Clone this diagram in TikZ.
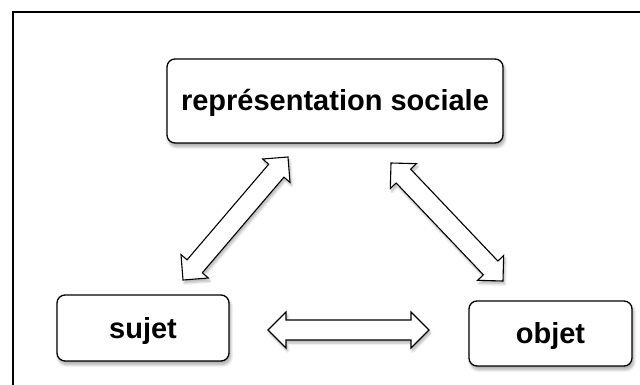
\documentclass[tikz,border=0pt]{standalone}
\usepackage{fontspec}
\setmainfont{Liberation Sans}
\usetikzlibrary{calc,shadows,shadows.blur}
\tikzset{
  frameline/.style={line width=1.3pt, line cap=rect},
  boxnode/.style={draw=black, line width=1.3pt, rounded corners=8pt, fill=white,
    inner sep=0pt, text height=23pt, text depth=3pt,
    font=\fontsize{29}{34}\selectfont\bfseries,
    blur shadow={shadow xshift=1.5pt, shadow yshift=-3.5pt, shadow opacity=35, shadow blur steps=8, shadow blur radius=3pt}},
  arrowbox/.style={draw=black, line width=1.1pt, fill=white, line join=miter,
    blur shadow={shadow xshift=1.5pt, shadow yshift=-3pt, shadow opacity=30, shadow blur steps=6, shadow blur radius=2.5pt}}
}
\newcommand\dblarrow[2]{%
  \coordinate (#1h) at ($(#1)!18pt!(#2)$);
  \coordinate (#2h) at ($(#2)!18pt!(#1)$);
  \draw[arrowbox] (#1)
    -- ($(#1h)!18pt!90:(#2)$) -- ($(#1h)!10pt!90:(#2)$)
    -- ($(#2h)!10pt!-90:(#1)$) -- ($(#2h)!18pt!-90:(#1)$)
    -- (#2)
    -- ($(#2h)!18pt!90:(#1)$) -- ($(#2h)!10pt!90:(#1)$)
    -- ($(#1h)!10pt!-90:(#2)$) -- ($(#1h)!18pt!-90:(#2)$)
    -- cycle;}
\begin{document}
\begin{tikzpicture}[x=1pt,y=-1pt]
\useasboundingbox (0,0) rectangle (640,385);
% frame
\coordinate (fbl) at (13,386);
\coordinate (ftl) at (13,12);
\coordinate (ftr) at (641,12);
\draw[frameline] (fbl) -- (ftl) -- (ftr);
% boxes
\node[boxnode, minimum width=336pt, minimum height=84pt] (rep) at (335,101) {représentation sociale};
\node[boxnode, minimum width=172pt, minimum height=66pt] (suj) at (143,328) {sujet};
\node[boxnode, minimum width=163pt, minimum height=65pt] (obj) at (550.5,333.5) {objet};
% arrow ends
\coordinate (la) at (183,280);
\coordinate (lb) at (288,157);
\coordinate (ra) at (391,163);
\coordinate (rb) at (503,281);
\coordinate (ha) at (268,330);
\coordinate (hb) at (429,330);
\dblarrow{la}{lb}
\dblarrow{ra}{rb}
\dblarrow{ha}{hb}
\end{tikzpicture}
\end{document}
